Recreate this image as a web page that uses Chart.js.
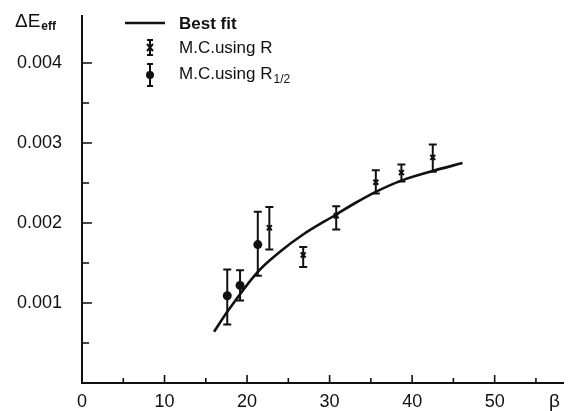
<!DOCTYPE html>
<html>
<head>
<meta charset="utf-8">
<script src="https://cdn.jsdelivr.net/npm/chart.js@4"></script>
<style>
  html, body { margin: 0; padding: 0; background: #fff; }
  #wrap { width: 570px; height: 411px; position: relative; }
</style>
</head>
<body>
<div id="wrap"><canvas id="myChart" width="570" height="411"></canvas></div>
<script>
// data
let fitBeta = [16.0, 17.6, 21.3, 24.1, 26.7, 30.7, 33.1, 35.6, 38.7, 42.5, 46.1];
let fitVal = [0.00064, 0.00089, 0.00139, 0.00165, 0.00185, 0.00210, 0.00225, 0.00239, 0.00253, 0.00265, 0.00275];

let crossBeta = [22.7, 26.8, 30.8, 35.6, 38.7, 42.5];
let crossVal = [0.00194, 0.00160, 0.00209, 0.00251, 0.00263, 0.00282];
let crossHi = [0.00220, 0.00170, 0.00221, 0.00266, 0.00273, 0.00298];
let crossLo = [0.00167, 0.00145, 0.00192, 0.00237, 0.00252, 0.00264];

let circleBeta = [17.6, 19.15, 21.3];
let circleVal = [0.00109, 0.00122, 0.00173];
let circleHi = [0.00142, 0.00141, 0.00214];
let circleLo = [0.00073, 0.00103, 0.00134];

let xTicks = [0, 10, 20, 30, 40, 50];
let xMinor = [5, 15, 25, 35, 45, 55];
let yTicks = [0.001, 0.002, 0.003, 0.004];
let yMinor = [0.0005, 0.0015, 0.0025, 0.0035];

const font = '"Liberation Sans", Arial, sans-serif';

function pts(xs, ys) {
    return xs.map((x, i) => ({ x: x, y: ys[i] }));
}

// axes, inward ticks, error bars, legend and labels
const paperPlugin = {
    id: 'paper',
    afterDatasetsDraw(chart) {
        const ctx = chart.ctx;
        const xs = chart.scales.x;
        const ys = chart.scales.y;
        const a = chart.chartArea;
        ctx.save();
        ctx.strokeStyle = '#111';
        ctx.fillStyle = '#111';
        ctx.lineCap = 'butt';

        // axis lines
        ctx.lineWidth = 2;
        ctx.beginPath();
        ctx.moveTo(a.left, a.top);
        ctx.lineTo(a.left, a.bottom);
        ctx.lineTo(a.right, a.bottom);
        ctx.stroke();

        // ticks
        ctx.lineWidth = 1.6;
        ctx.beginPath();
        yTicks.forEach(v => { let p = ys.getPixelForValue(v); ctx.moveTo(a.left, p); ctx.lineTo(a.left + 10, p); });
        yMinor.forEach(v => { let p = ys.getPixelForValue(v); ctx.moveTo(a.left, p); ctx.lineTo(a.left + 7, p); });
        xTicks.forEach(v => { let p = xs.getPixelForValue(v); ctx.moveTo(p, a.bottom); ctx.lineTo(p, a.bottom - 8); });
        xMinor.forEach(v => { let p = xs.getPixelForValue(v); ctx.moveTo(p, a.bottom); ctx.lineTo(p, a.bottom - 5); });
        ctx.stroke();

        // error bars
        function bars(bx, hi, lo) {
            ctx.lineWidth = 2;
            ctx.beginPath();
            bx.forEach((b, i) => {
                let px = xs.getPixelForValue(b);
                let ph = ys.getPixelForValue(hi[i]);
                let pl = ys.getPixelForValue(lo[i]);
                ctx.moveTo(px, ph); ctx.lineTo(px, pl);
                ctx.moveTo(px - 4, ph); ctx.lineTo(px + 4, ph);
                ctx.moveTo(px - 4, pl); ctx.lineTo(px + 4, pl);
            });
            ctx.stroke();
        }
        bars(crossBeta, crossHi, crossLo);
        bars(circleBeta, circleHi, circleLo);

        // legend
        ctx.lineWidth = 2.5;
        ctx.beginPath();
        ctx.moveTo(125, 23); ctx.lineTo(165, 23);
        ctx.stroke();

        ctx.lineWidth = 2;
        ctx.beginPath();
        ctx.moveTo(150, 40); ctx.lineTo(150, 55);
        ctx.moveTo(147, 40); ctx.lineTo(153, 40);
        ctx.moveTo(147, 55); ctx.lineTo(153, 55);
        ctx.moveTo(147, 44); ctx.lineTo(153, 51);
        ctx.moveTo(153, 44); ctx.lineTo(147, 51);
        ctx.moveTo(150, 64); ctx.lineTo(150, 86);
        ctx.moveTo(147, 64); ctx.lineTo(153, 64);
        ctx.moveTo(147, 86); ctx.lineTo(153, 86);
        ctx.stroke();
        ctx.beginPath();
        ctx.arc(150, 75, 4, 0, Math.PI * 2);
        ctx.fill();

        ctx.textAlign = 'left';
        ctx.textBaseline = 'alphabetic';
        ctx.font = 'bold 17px ' + font;
        ctx.fillText('Best fit', 179, 29);
        ctx.font = '17px ' + font;
        ctx.fillText('M.C.using R', 179, 53);
        ctx.fillText('M.C.using R', 179, 79);
        let w = ctx.measureText('M.C.using R').width;
        ctx.font = '12px ' + font;
        ctx.fillText('1/2', 179 + w + 1, 83);

        // axis names
        ctx.font = '19px ' + font;
        ctx.fillText('\u0394E', 15, 27);
        let w2 = ctx.measureText('\u0394E').width;
        ctx.font = 'bold 12px ' + font;
        ctx.fillText('eff', 15 + w2 + 1, 30);
        ctx.font = '19px ' + font;
        ctx.fillText('\u03b2', 549, 407);
        ctx.restore();
    }
};

let ctx = document.getElementById('myChart').getContext('2d');

let myChart = new Chart(ctx, {
    type: 'scatter',
    data: {
        datasets: [{
                label: 'Best fit',
                data: pts(fitBeta, fitVal),
                showLine: true,
                borderColor: '#111',
                borderWidth: 2.6,
                pointRadius: 0,
                cubicInterpolationMode: 'monotone',
            },
            {
                label: 'M.C. using R',
                data: pts(crossBeta, crossVal),
                pointStyle: 'crossRot',
                pointRadius: 3.5,
                borderColor: '#111',
                borderWidth: 2,
            },
            {
                label: 'M.C. using R1/2',
                data: pts(circleBeta, circleVal),
                pointStyle: 'circle',
                pointRadius: 4.5,
                backgroundColor: '#111',
                borderColor: '#111',
                borderWidth: 0,
            },
        ],
    },
    options: {
        responsive: false,
        animation: false,
        layout: {
            padding: { top: 15, right: 1, left: 0, bottom: 0 }
        },
        scales: {
            x: {
                type: 'linear',
                min: 0,
                max: 58.4,
                grid: { display: false, drawTicks: false },
                border: { display: false },
                afterBuildTicks: s => { s.ticks = xTicks.map(v => ({ value: v })); },
                afterFit: s => { s.height = 28; s.paddingLeft = 0; s.paddingRight = 0; },
                ticks: {
                    padding: 8,
                    color: '#111',
                    font: { family: font, size: 18 },
                    maxRotation: 0,
                }
            },
            y: {
                type: 'linear',
                min: 0,
                max: 0.0046,
                grid: { display: false, drawTicks: false },
                border: { display: false },
                afterBuildTicks: s => { s.ticks = yTicks.map(v => ({ value: v })); },
                afterFit: s => { s.width = 82; s.paddingTop = 0; s.paddingBottom = 0; },
                ticks: {
                    padding: 20,
                    color: '#111',
                    font: { family: font, size: 18 },
                    callback: v => v.toFixed(3),
                }
            }
        },
        plugins: {
            legend: { display: false },
            tooltip: { enabled: false }
        },
    },
    plugins: [paperPlugin],
});
</script>
</body>
</html>
